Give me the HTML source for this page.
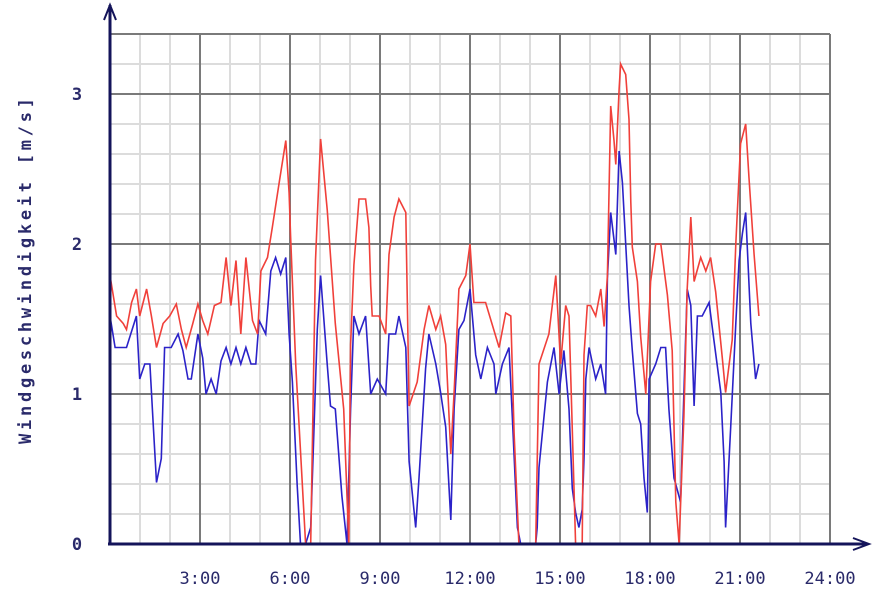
<!DOCTYPE html>
<html><head><meta charset="utf-8"><style>
html,body{margin:0;padding:0;background:#fff;}
svg{display:block;}
text{font-family:"DejaVu Sans Mono","Liberation Mono",monospace;fill:#2a2a6a;}
</style></head><body>
<svg id="chart" width="892" height="598"></svg>
<script>
const hourTicks=[3,6,9,12,15,18,21,24];
const hourTickLabels=["3:00","6:00","9:00","12:00","15:00","18:00","21:00","24:00"];
const valueTicks=[0,1,2,3];
const valueTickLabels=["0","1","2","3"];
const redHours=[0,0.22,0.44,0.55,0.72,0.88,0.99,1.22,1.38,1.55,1.77,1.99,2.21,2.38,2.54,2.76,2.93,3.09,3.26,3.48,3.7,3.87,4.03,4.2,4.36,4.53,4.75,4.92,5.03,5.25,5.41,5.64,5.86,5.97,6.02,6.19,6.35,6.52,6.69,6.85,7.02,7.24,7.51,7.79,7.96,8.02,8.13,8.3,8.52,8.63,8.69,8.74,8.97,9.19,9.3,9.47,9.63,9.86,9.97,10.24,10.47,10.63,10.86,11.02,11.19,11.36,11.47,11.63,11.86,12,12.13,12.52,12.97,13.19,13.36,13.47,13.63,14.19,14.3,14.63,14.86,15.02,15.19,15.3,15.52,15.74,15.8,15.91,16.02,16.19,16.36,16.47,16.58,16.69,16.8,16.86,16.97,17.02,17.19,17.3,17.36,17.41,17.58,17.69,17.86,18.02,18.19,18.36,18.58,18.74,18.86,18.97,19.13,19.24,19.36,19.47,19.69,19.86,20.02,20.19,20.41,20.52,20.74,20.86,21.02,21.19,21.3,21.47,21.63];
const redValues=[1.79,1.52,1.47,1.43,1.61,1.7,1.52,1.7,1.52,1.31,1.47,1.52,1.6,1.43,1.31,1.47,1.6,1.49,1.4,1.59,1.61,1.91,1.59,1.89,1.4,1.91,1.49,1.4,1.82,1.91,2.11,2.41,2.69,2.34,2.05,1.2,0.62,0,0,1.89,2.7,2.23,1.47,0.9,0,1.33,1.86,2.3,2.3,2.11,1.72,1.52,1.52,1.4,1.93,2.18,2.3,2.21,0.92,1.08,1.43,1.59,1.43,1.52,1.33,0.6,1.01,1.7,1.79,2,1.61,1.61,1.31,1.54,1.52,0.74,0,0,1.2,1.4,1.79,1.2,1.59,1.52,0,0,1.26,1.59,1.59,1.52,1.7,1.45,1.79,2.92,2.69,2.53,3.03,3.2,3.13,2.83,2.28,1.98,1.75,1.38,1,1.75,2,2,1.66,1.29,0.28,0,0.85,1.7,2.18,1.75,1.91,1.82,1.91,1.68,1.24,1.01,1.36,2,2.67,2.8,2.44,1.93,1.52];
const blueHours=[0,0.17,0.55,0.88,0.99,1.16,1.33,1.44,1.55,1.71,1.82,2.04,2.27,2.43,2.6,2.71,2.93,3.09,3.2,3.37,3.54,3.7,3.87,4.03,4.2,4.36,4.53,4.7,4.86,4.97,5.19,5.36,5.52,5.69,5.86,5.97,6.08,6.24,6.35,6.52,6.69,6.91,7.02,7.24,7.35,7.51,7.73,7.9,8.02,8.13,8.3,8.52,8.69,8.91,9.19,9.3,9.52,9.63,9.86,9.97,10.19,10.3,10.52,10.63,10.86,11.02,11.19,11.36,11.47,11.63,11.8,12,12.19,12.36,12.58,12.8,12.86,13.08,13.3,13.41,13.58,13.69,14.19,14.24,14.3,14.58,14.8,14.97,15.13,15.3,15.41,15.52,15.63,15.74,15.8,15.86,15.97,16.19,16.36,16.52,16.58,16.69,16.86,16.97,17.08,17.19,17.3,17.41,17.58,17.69,17.8,17.91,17.97,18.19,18.36,18.52,18.63,18.8,19.02,19.13,19.24,19.36,19.47,19.58,19.74,19.97,20.13,20.36,20.47,20.52,20.69,20.86,20.97,21.08,21.19,21.36,21.52,21.63];
const blueValues=[1.52,1.31,1.31,1.52,1.1,1.2,1.2,0.8,0.41,0.57,1.31,1.31,1.4,1.29,1.1,1.1,1.4,1.24,1,1.1,1,1.22,1.31,1.2,1.31,1.2,1.31,1.2,1.2,1.49,1.4,1.82,1.91,1.8,1.91,1.4,1.08,0.39,0,0,0.11,1.43,1.79,1.2,0.92,0.9,0.32,0,0.9,1.52,1.4,1.52,1,1.1,1,1.4,1.4,1.52,1.31,0.55,0.11,0.44,1.17,1.4,1.2,1.01,0.78,0.16,0.9,1.43,1.49,1.7,1.26,1.1,1.31,1.2,1,1.2,1.31,0.85,0.11,0,0,0.11,0.51,1.08,1.31,1,1.29,0.9,0.37,0.21,0.11,0.23,0.57,1.1,1.31,1.1,1.2,1,1.77,2.21,1.93,2.62,2.41,2,1.59,1.29,0.87,0.8,0.44,0.21,1.1,1.2,1.31,1.31,0.9,0.44,0.28,1.01,1.7,1.59,0.92,1.52,1.52,1.61,1.36,1.01,0.55,0.11,0.78,1.47,1.89,2.07,2.21,1.47,1.1,1.2];

const NS="http://www.w3.org/2000/svg";
const svg=document.getElementById('chart');
const X0=110,PXH=30,Y0=544,PXV=150,TOP=34,RIGHT=830;
function xs(h){return X0+h*PXH;}
function ys(v){return Y0-v*PXV;}
function mk(tag,attrs,parent){const e=document.createElementNS(NS,tag);for(const k in attrs)e.setAttribute(k,attrs[k]);(parent||svg).appendChild(e);return e;}

const grid=mk('g',{});


for(let h=1;h<=24;h++){if(h%3)mk('line',{x1:xs(h),x2:xs(h),y1:TOP,y2:Y0,stroke:'#dcdcdc','stroke-width':2},grid);}
for(let v=0.2;v<3.45;v+=0.2){if(Math.abs(v-Math.round(v))>0.01)mk('line',{x1:X0,x2:RIGHT,y1:ys(v),y2:ys(v),stroke:'#dcdcdc','stroke-width':2},grid);}
hourTicks.forEach(h=>mk('line',{x1:xs(h),x2:xs(h),y1:TOP,y2:Y0,stroke:'#7a7a7a','stroke-width':2},grid));
valueTicks.forEach(v=>{if(v>0)mk('line',{x1:X0,x2:RIGHT,y1:ys(v),y2:ys(v),stroke:'#7a7a7a','stroke-width':2},grid);});
mk('line',{x1:X0,x2:RIGHT,y1:TOP,y2:TOP,stroke:'#7a7a7a','stroke-width':2},grid);

function series(hrs,vals,color,name){
  const p=mk('polyline',{points:hrs.map((h,i)=>xs(h)+','+ys(vals[i])).join(' '),fill:'none',stroke:color,'stroke-width':1.6,'stroke-linejoin':'miter'});
  
  
}
series(blueHours,blueValues,'#2b22c8','mean-wind-line');
series(redHours,redValues,'#f0403a','gust-wind-line');

const ax=mk('g',{stroke:'#14145a','stroke-width':3,fill:'none'});


mk('line',{x1:X0,x2:X0,y1:545,y2:5},ax);
mk('line',{x1:108,x2:868,y1:Y0,y2:Y0},ax);
mk('polyline',{points:'104,20 110,5 116,20','stroke-width':2},ax);
mk('polyline',{points:'853,538 869,544 853,550','stroke-width':2},ax);

hourTicks.forEach((h,i)=>{const t=mk('text',{x:xs(h),y:584,'text-anchor':'middle','font-size':17});t.textContent=hourTickLabels[i];

});
valueTicks.forEach((v,i)=>{const t=mk('text',{x:77,y:ys(v)+6,'text-anchor':'middle','font-size':17,'font-weight':'bold'});t.textContent=valueTickLabels[i];

});
const yt=mk('text',{x:0,y:0,'text-anchor':'middle','font-size':17,'font-weight':'bold',textLength:346,lengthAdjust:'spacing',transform:'translate(31,271) rotate(-90)'});
yt.textContent='Windgeschwindigkeit [m/s]';


</script>
</body></html>
